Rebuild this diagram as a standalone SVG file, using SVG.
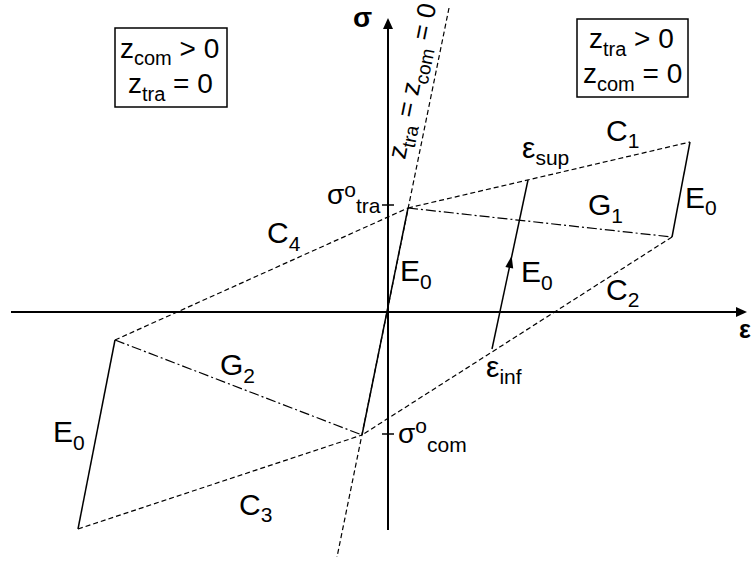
<svg xmlns="http://www.w3.org/2000/svg" width="752" height="561" viewBox="0 0 752 561">
<style>
text{font-family:"Liberation Sans",Arial,sans-serif;font-size:28px;fill:#000}
.sub{font-size:20px}
.lb{font-size:30px}
.lb .sub{font-size:21px}
.ax{stroke:#000;stroke-width:2;fill:none}
.sol{stroke:#000;stroke-width:1.5;fill:none}
.dsh{stroke:#000;stroke-width:1.2;fill:none;stroke-dasharray:5 3}
.dd{stroke:#000;stroke-width:1.2;fill:none;stroke-dasharray:10 3 2 3}
.box{fill:#fff;stroke:#000;stroke-width:1.5}
.bold{font-weight:bold}
</style>
<rect width="752" height="561" fill="#fff"/>
<g id="axes">
<line class="ax" x1="11" y1="312" x2="738" y2="312"/>
<polygon points="747,312 736,307 736,317" fill="#000"/>
<line class="ax" x1="388" y1="530" x2="388" y2="27"/>
<polygon points="388,18 383,29 393,29" fill="#000"/>
<line class="ax" x1="382" y1="205" x2="394" y2="205" style="stroke-width:1.5"/>
<line class="ax" x1="382" y1="434" x2="394" y2="434" style="stroke-width:1.5"/>
<text class="bold" x="353" y="27" style="font-size:28px">σ</text>
<text class="bold" x="739" y="338" style="font-size:25px">ε</text>
</g>
<g id="connectors">
<line class="dsh" x1="449" y1="8" x2="337" y2="557"/>
<line class="dsh" x1="408" y1="208" x2="690" y2="142"/>
<line class="dsh" x1="115" y1="340" x2="408" y2="208"/>
<line class="dsh" x1="672" y1="237" x2="362" y2="435"/>
<line class="dsh" x1="78" y1="529" x2="362" y2="435"/>
<line class="dd" x1="408" y1="208" x2="672" y2="237"/>
<line class="dd" x1="115" y1="340" x2="362" y2="435"/>
<line class="sol" x1="362" y1="435" x2="408" y2="208"/>
<line class="sol" x1="672" y1="237" x2="690" y2="142"/>
<line class="sol" x1="78" y1="529" x2="115" y2="340"/>
<line class="sol" x1="492" y1="349" x2="528" y2="180"/>
<polygon points="511.6,256 513.2,268.6 505.4,267" fill="#000"/>
</g>
<g id="box-left">
<rect class="box" x="115" y="28" width="112" height="79"/>
<text x="120" y="58">z<tspan class="sub" dy="7">com</tspan><tspan dy="-7"> &gt; 0</tspan></text>
<text x="128" y="93">z<tspan class="sub" dy="8">tra</tspan><tspan dy="-8"> = 0</tspan></text>
</g>
<g id="box-right">
<rect class="box" x="577" y="19" width="111" height="78"/>
<text x="589" y="48">z<tspan class="sub" dy="8">tra</tspan><tspan dy="-8"> &gt; 0</tspan></text>
<text x="583" y="83">z<tspan class="sub" dy="8">com</tspan><tspan dy="-8"> = 0</tspan></text>
</g>
<g id="line-label">
<text transform="translate(405,160) rotate(-78.5)" style="font-size:26px">z<tspan dy="7" style="font-size:19px">tra</tspan><tspan dy="-7"> = z</tspan><tspan dy="7" style="font-size:19px">com</tspan><tspan dy="-7"> = 0</tspan></text>
</g>
<g id="labels" class="lb">
<text class="lb" x="606" y="141">C<tspan class="sub" dy="7">1</tspan></text>
<text class="lb" x="522" y="158">ε<tspan class="sub" dy="7">sup</tspan></text>
<text class="lb" x="588" y="215">G<tspan class="sub" dy="8">1</tspan></text>
<text class="lb" x="685" y="208">E<tspan class="sub" dy="7">0</tspan></text>
<text class="lb" x="400" y="281">E<tspan class="sub" dy="8">0</tspan></text>
<text class="lb" x="521" y="282">E<tspan class="sub" dy="8">0</tspan></text>
<text class="lb" x="606" y="300">C<tspan class="sub" dy="7">2</tspan></text>
<text class="lb" x="486" y="377">ε<tspan class="sub" dy="7">inf</tspan></text>
<text class="lb" x="220" y="375">G<tspan class="sub" dy="8">2</tspan></text>
<text class="lb" x="53" y="442">E<tspan class="sub" dy="8">0</tspan></text>
<text class="lb" x="239" y="515">C<tspan class="sub" dy="7">3</tspan></text>
<text class="lb" x="267" y="243">C<tspan class="sub" dy="8">4</tspan></text>
<text x="327" y="204">σ<tspan class="sub" dy="-7">o</tspan><tspan class="sub" dy="16">tra</tspan></text>
<text x="398" y="443">σ<tspan class="sub" dy="-10">o</tspan><tspan class="sub" dy="19">com</tspan></text>
</g>
</svg>
